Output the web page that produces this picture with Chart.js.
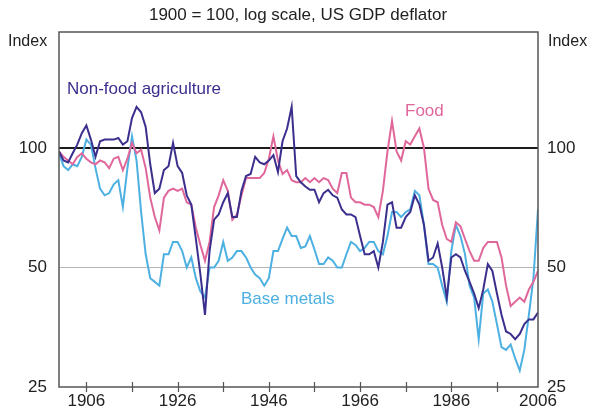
<!DOCTYPE html>
<html lang="en">
<head>
<meta charset="UTF-8">
<title>Commodity prices, 1900 = 100</title>
<script src="https://cdn.jsdelivr.net/npm/chart.js"></script>
<style>
  body { margin: 0; background: #fff; }
  #wrap { width: 592px; height: 414px; }
</style>
</head>
<body>
<div id="wrap"><canvas id="myChart"></canvas></div>
<script>
// annual values, 1900 .. 2005, index 1900 = 100
const firstYear = 1900;

const nonFood = [
  98, 93, 92, 97, 102, 109, 114, 105, 95, 104,
  105, 105, 105, 106, 102, 104, 119, 127, 123, 113,
  91, 77, 79, 88, 90, 103, 90, 86.5, 76, 72,
  59, 48, 38, 55, 66, 68, 73, 77, 67, 67,
  78, 85, 86, 95, 92, 91, 93, 96, 87, 104,
  112, 127, 85, 82, 80, 78.5, 78.5, 73, 77, 78.5,
  76, 75, 70, 68, 68, 67, 60, 54, 54, 55,
  50, 58, 72, 73, 63, 63, 67, 69, 76, 72,
  64, 52, 53, 57.5, 50, 42, 53, 54, 53, 49,
  46, 43, 39.5, 44, 51, 49, 43, 38, 34.5, 34,
  33, 34, 36, 37, 37, 38.5
];

const food = [
  98, 95, 93, 91, 95, 97, 94, 92, 91, 93,
  92, 89, 94, 95, 88, 94, 103, 97, 99, 89,
  75, 67, 62, 75, 78, 79, 78, 79, 73, 72,
  63, 57, 52, 58, 71, 76, 83, 78, 66, 68,
  76, 84, 84, 84, 84, 86.5, 94, 107, 93, 86,
  88, 83, 82, 82, 84, 82, 84, 82, 84, 83,
  79, 77, 86.5, 86.5, 75, 73, 73, 72, 72, 71,
  67, 78, 98, 117, 98, 93, 104, 102, 107, 112,
  100, 79, 74, 73, 64, 59, 58, 65, 63.5, 59,
  55, 52, 52, 56, 58, 58, 58, 53, 45, 40,
  41, 42, 41, 44, 46, 49
];

const baseMetals = [
  97, 90, 88, 91, 90, 95, 105, 102, 89, 79,
  76, 77, 81, 83, 71, 89, 107, 93, 69, 54,
  47, 46, 45, 54, 54, 58, 58, 55, 50, 53,
  47, 43.5, 42, 50, 50, 52, 58, 52, 53, 55,
  55, 53, 50, 48, 47, 45, 47, 55, 55, 59,
  63, 60, 60, 56, 56.5, 60, 55.5, 51, 51, 53,
  52, 50, 50, 54, 58, 57, 55, 56, 58, 58,
  55, 54, 60, 69, 69, 67, 69, 70, 78, 76,
  64, 51, 51, 50, 45, 41, 55, 64, 60, 54,
  45, 42, 33, 43, 44, 41, 36, 31.5, 31, 32,
  29.5, 27.5, 31, 38, 47, 70
];

const yTicks = [25, 50, 100];
const xTicks = [1906, 1916, 1926, 1936, 1946, 1956, 1966, 1976, 1986, 1996, 2005];
const xLabels = { 1906: "1906", 1926: "1926", 1946: "1946", 1966: "1966", 1986: "1986", 2005: "2006" };

const colNonFood = "#3b2f8e";
const colFood = "#e0679b";
const colMetals = "#4db0e2";

const toPoints = (arr) => arr.map((v, i) => ({ x: firstYear + i, y: v }));

// frame, crossing x ticks, title and the text labels
const decorations = {
  id: "decorations",
  afterDraw(chart) {
    const { ctx, chartArea: a } = chart;
    const xs = chart.scales.x;
    ctx.save();
    ctx.strokeStyle = "#555";
    ctx.lineWidth = 1.5;
    ctx.strokeRect(a.left, a.top, a.right - a.left, a.bottom - a.top);

    ctx.lineWidth = 1.2;
    xTicks.slice(0, -1).forEach((yr) => {
      const px = Math.round(xs.getPixelForValue(yr)) + 0.5;
      ctx.beginPath();
      ctx.moveTo(px, a.bottom - 5);
      ctx.lineTo(px, a.bottom + 5);
      ctx.stroke();
    });

    ctx.textBaseline = "middle";
    ctx.fillStyle = "#222";
    ctx.font = "17px 'Liberation Sans', Arial, sans-serif";
    ctx.textAlign = "center";
    ctx.fillText("1900 = 100, log scale, US GDP deflator", 298, 15);

    ctx.font = "16px 'Liberation Sans', Arial, sans-serif";
    ctx.textAlign = "left";
    ctx.fillText("Index", 8, 42);
    ctx.fillText("Index", 548, 42);

    ctx.font = "17px 'Liberation Sans', Arial, sans-serif";
    ctx.fillStyle = colNonFood;
    ctx.fillText("Non-food agriculture", 67, 89);
    ctx.fillStyle = colFood;
    ctx.fillText("Food", 405, 111);
    ctx.fillStyle = colMetals;
    ctx.fillText("Base metals", 241, 299);
    ctx.restore();
  }
};

const tickFont = { family: "'Liberation Sans', Arial, sans-serif", size: 17 };

new Chart(document.getElementById("myChart"), {
  type: "line",
  data: {
    datasets: [
      { label: "Non-food agriculture", data: toPoints(nonFood), borderColor: colNonFood },
      { label: "Food", data: toPoints(food), borderColor: colFood },
      { label: "Base metals", data: toPoints(baseMetals), borderColor: colMetals }
    ]
  },
  options: {
    responsive: true,
    maintainAspectRatio: false,
    animation: false,
    layout: { padding: { top: 32 } },
    elements: {
      point: { radius: 0 },
      line: { borderWidth: 2, tension: 0 }
    },
    plugins: {
      legend: { display: false },
      tooltip: { enabled: false }
    },
    scales: {
      x: {
        type: "linear",
        min: 1900,
        max: 2005,
        afterBuildTicks: (s) => { s.ticks = xTicks.map((v) => ({ value: v })); },
        afterFit: (s) => { s.height = 27; },
        grid: { display: false, drawTicks: false },
        border: { display: false },
        ticks: {
          font: tickFont,
          color: "#222",
          padding: 4,
          maxRotation: 0,
          autoSkip: false,
          callback: (v) => xLabels[v] || ""
        }
      },
      y: {
        type: "logarithmic",
        position: "left",
        min: 25,
        max: 196,
        afterBuildTicks: (s) => { s.ticks = yTicks.map((v) => ({ value: v })); },
        afterFit: (s) => { s.width = 59; },
        border: { display: false },
        grid: {
          drawTicks: false,
          color: (c) => c.tick.value === 100 ? "#1c1c1c" : c.tick.value === 50 ? "#b4b4b4" : "rgba(0,0,0,0)",
          lineWidth: (c) => c.tick.value === 100 ? 2 : 1
        },
        ticks: { font: tickFont, color: "#222", padding: 12, callback: (v) => String(v) }
      },
      y2: {
        type: "logarithmic",
        position: "right",
        min: 25,
        max: 196,
        afterBuildTicks: (s) => { s.ticks = yTicks.map((v) => ({ value: v })); },
        afterFit: (s) => { s.width = 54; },
        border: { display: false },
        grid: { display: false, drawTicks: false },
        ticks: { font: tickFont, color: "#222", padding: 9, callback: (v) => String(v) }
      }
    }
  },
  plugins: [decorations]
});
</script>
</body>
</html>
